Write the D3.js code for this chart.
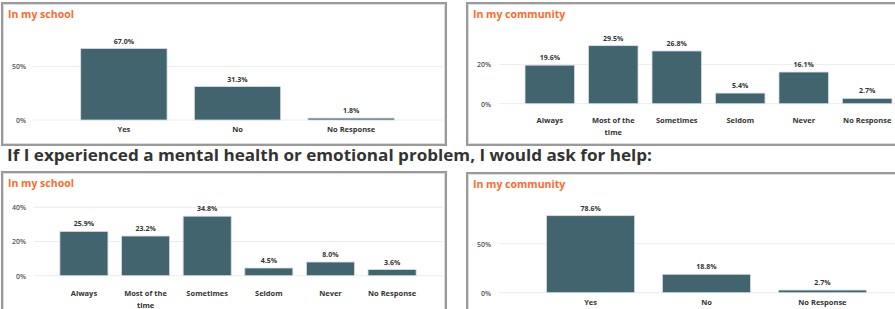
<!DOCTYPE html>
<html>
<head>
<meta charset="utf-8">
<script src="https://cdn.jsdelivr.net/npm/d3@7"></script>
<style>
  html, body { margin: 0; padding: 0; background: #fff; overflow: hidden; }
  text { font-family: "Open Sans", "Noto Sans", sans-serif; }
</style>
</head>
<body>
<svg id="chart" width="895" height="309"></svg>
<script>
// ---- Data ----
const heading = "If I experienced a mental health or emotional problem, I would ask for help:";
const titleSchool = "In my school";
const titleCommunity = "In my community";

const catsYesNo = ["Yes", "No", "No Response"];
const catsFreq = ["Always", "Most of the time", "Sometimes", "Seldom", "Never", "No Response"];

const topSchoolValues = [0.670, 0.313, 0.018];
const topCommunityValues = [0.196, 0.295, 0.268, 0.054, 0.161, 0.027];
const helpSchoolValues = [0.259, 0.232, 0.348, 0.045, 0.080, 0.036];
const helpCommunityValues = [0.786, 0.188, 0.027];

const ticksHalf = [0, 0.5];
const ticksTwenty = [0, 0.2];
const ticksTwentyForty = [0, 0.2, 0.4];

// ---- Layout ----
const svg = d3.select("#chart");
const barColor = "#42646f";
const titleColor = "#ff6a2b";
const fmt = d3.format(".1%");

const panels = [
  { box: [2, 3, 444, 142], title: titleSchool, cats: catsYesNo, vals: topSchoolValues, ticks: ticksHalf,
    xr: [33, 442], pi: 0.24, po: 0.42, y0: 120, h100: 106.7, gridEnd: 443, tickX: 26, labelY: 132 },
  { box: [467, 3, 460, 142], title: titleCommunity, cats: catsFreq, vals: topCommunityValues, ticks: ticksTwenty,
    xr: [499, 918], pi: 0.22, po: 0.41, y0: 103.7, h100: 196.7, gridEnd: 920, tickX: 491, labelY: 123 },
  { box: [2, 172, 444, 150], title: titleSchool, cats: catsFreq, vals: helpSchoolValues, ticks: ticksTwentyForty,
    xr: [34, 442], pi: 0.22, po: 0.42, y0: 275.7, h100: 171, gridEnd: 443, tickX: 26, labelY: 295.5 },
  { box: [467, 173, 460, 150], title: titleCommunity, cats: catsYesNo, vals: helpCommunityValues, ticks: ticksHalf,
    xr: [499, 914], pi: 0.24, po: 0.41, y0: 292.7, h100: 98, gridEnd: 920, tickX: 491, labelY: 305 }
];

// heading
svg.append("text")
  .attr("x", 7).attr("y", 160.5)
  .attr("font-size", 16.5).attr("font-weight", 700)
  .attr("fill", "#333")
  .attr("textLength", 645).attr("lengthAdjust", "spacingAndGlyphs")
  .text(heading);

panels.forEach(p => {
  const g = svg.append("g");
  const [bx, by, bw, bh] = p.box;
  g.append("rect").attr("x", bx).attr("y", by).attr("width", bw).attr("height", bh)
    .attr("fill", "#fff").attr("stroke", "#9a9a9a").attr("stroke-width", 2);
  g.append("rect").attr("x", bx + 1.5).attr("y", by + 1.5).attr("width", bw - 3).attr("height", bh - 3)
    .attr("fill", "none").attr("stroke", "#dcdcdc").attr("stroke-width", 1);

  g.append("text").attr("x", bx + 6).attr("y", by + 15)
    .attr("font-size", 10.5).attr("font-weight", 700).attr("fill", titleColor)
    .text(p.title);

  const x = d3.scaleBand().domain(p.cats).range(p.xr).paddingInner(p.pi).paddingOuter(p.po);
  const y = d3.scaleLinear().domain([0, 1]).range([p.y0, p.y0 - p.h100]);

  // gridlines
  g.selectAll(".grid").data(p.ticks).enter().append("line")
    .attr("x1", p.xr[0]).attr("x2", p.gridEnd)
    .attr("y1", d => y(d)).attr("y2", d => y(d))
    .attr("stroke", "#ececec").attr("stroke-width", 1);

  // y tick labels
  g.selectAll(".ytick").data(p.ticks).enter().append("text")
    .attr("x", p.tickX).attr("y", d => y(d) + 2.8)
    .attr("text-anchor", "end").attr("font-size", 7).attr("font-weight", 600)
    .attr("fill", "#555")
    .text(d => d3.format(".0%")(d));

  // bars
  g.selectAll(".bar").data(p.vals).enter().append("rect")
    .attr("x", (d, i) => x(p.cats[i]))
    .attr("width", x.bandwidth())
    .attr("y", d => y(d))
    .attr("height", d => Math.max(0.5, p.y0 - y(d)))
    .attr("fill", barColor)
    .attr("stroke", "#d6dee1").attr("stroke-width", 0.8);

  // value labels
  g.selectAll(".val").data(p.vals).enter().append("text")
    .attr("x", (d, i) => x(p.cats[i]) + x.bandwidth() / 2)
    .attr("y", d => y(d) - 5)
    .attr("text-anchor", "middle").attr("font-size", 7).attr("font-weight", 700)
    .attr("fill", "#333")
    .text(d => fmt(d));

  // x labels
  p.cats.forEach(c => {
    const cx = x(c) + x.bandwidth() / 2;
    const t = g.append("text").attr("text-anchor", "middle")
      .attr("font-size", 7.5).attr("font-weight", 700).attr("fill", "#333");
    if (c === "Most of the time") {
      t.append("tspan").attr("x", cx).attr("y", p.labelY).text("Most of the");
      t.append("tspan").attr("x", cx).attr("y", p.labelY + 12).text("time");
    } else {
      t.append("tspan").attr("x", cx).attr("y", p.labelY).text(c);
    }
  });
});
</script>
</body>
</html>
